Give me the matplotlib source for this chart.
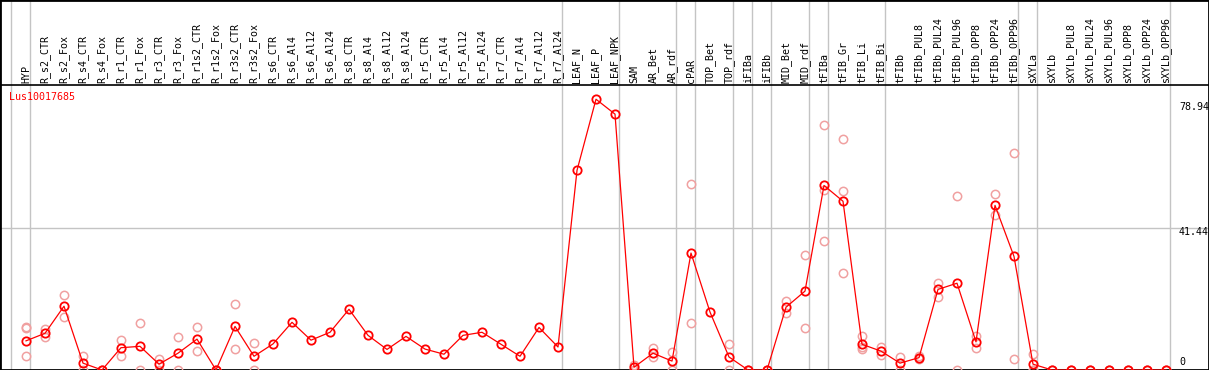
import numpy as np
import matplotlib
matplotlib.use("Agg")
import matplotlib.pyplot as plt

# ─── data ──────────────────────────────────────────────────────
GENE = "Lus10017685"

samples = [
    "HYP", "R_s2_CTR", "R_s2_Fox", "R_s4_CTR", "R_s4_Fox", "R_r1_CTR", "R_r1_Fox",
    "R_r3_CTR", "R_r3_Fox", "R_r1s2_CTR", "R_r1s2_Fox", "R_r3s2_CTR", "R_r3s2_Fox",
    "R_s6_CTR", "R_s6_Al4", "R_s6_Al12", "R_s6_Al24", "R_s8_CTR", "R_s8_Al4",
    "R_s8_Al12", "R_s8_Al24", "R_r5_CTR", "R_r5_Al4", "R_r5_Al12", "R_r5_Al24",
    "R_r7_CTR", "R_r7_Al4", "R_r7_Al12", "R_r7_Al24", "LEAF_N", "LEAF_P", "LEAF_NPK",
    "SAM", "AR_Bet", "AR_rdf", "cPAR", "TOP_Bet", "TOP_rdf", "iFIBa", "iFIBb",
    "MID_Bet", "MID_rdf", "tFIBa", "tFIB_Gr", "tFIB_Li", "tFIB_Bi", "tFIBb",
    "tFIBb_PUL8", "tFIBb_PUL24", "tFIBb_PUL96", "tFIBb_OPP8", "tFIBb_OPP24",
    "tFIBb_OPP96", "sXYLa", "sXYLb", "sXYLb_PUL8", "sXYLb_PUL24", "sXYLb_PUL96",
    "sXYLb_OPP8", "sXYLb_OPP24", "sXYLb_OPP96",
]

mean_expr = [
    8.5, 10.7, 18.6, 2.0, 0.0, 6.5, 6.9, 1.7, 4.9, 9.0, 0.0, 12.7, 4.0,
    7.6, 13.9, 8.7, 11.0, 17.7, 10.1, 6.0, 9.8, 6.1, 4.6, 10.1, 11.0,
    7.5, 4.0, 12.4, 6.7, 58.2, 78.94, 74.6,
    0.8, 4.9, 2.6, 34.1, 16.9, 3.8, 0.0, 0.0,
    18.3, 23.0, 53.8, 49.2, 7.5, 5.5, 2.0,
    3.6, 23.5, 25.3, 8.2, 48.0, 33.1,
    1.7, 0.0, 0.0, 0.0, 0.0, 0.0, 0.0, 0.0,
]

replicates = [
    [12.4, 12.2, 4.2], [12.0, 9.6], [21.9, 15.5], [4.1, 0.0], [0.0, 0.0],
    [8.7, 4.2], [13.6, 0.0], [3.2, 0.0], [9.5, 0.0], [12.4, 5.5], [0.0, 0.0],
    [19.2, 6.0], [7.8, 0.0],
    [], [], [], [], [], [], [], [], [], [], [], [], [], [], [], [],
    [], [], [],
    [1.5, 0.0], [6.3, 3.9], [5.3, 0.0], [54.2, 13.7], [], [7.6, 0.0],
    [0.0, 0.0], [0.0, 0.0],
    [20.1, 16.5], [33.5, 12.2], [71.3, 52.4, 37.5], [67.3, 52.1, 28.3],
    [9.9, 6.7, 6.1], [6.8, 4.3], [3.9, 0.0],
    [4.1, 3.3], [25.4, 21.4], [50.7, 0.0], [9.9, 6.3], [51.3, 45.1], [63.2, 3.1],
    [4.7, 0.0, 0.0], [0.0, 0.0], [0.0, 0.0], [0.0, 0.0], [0.0, 0.0],
    [0.0, 0.0], [0.0, 0.0], [0.0, 0.0],
]

# last column index of each tissue group (vertical separators)
group_ends = [-1, 0, 28, 31, 34, 35, 37, 38, 39, 41, 42, 45, 52, 53, 60]

scale_labels = [0, 41.44, 78.94]

# ─── layout (pixel based) ──────────────────────────────────────
W, H, DPI = 1209, 370, 100
X0, DX = 26, 19          # px of first column, column pitch
PX_PER_UNIT = 3.43       # vertical px per expression unit
HEADER_PX = 85           # header band height from top

def px_x(px):
    return (px - X0) / DX

def px_y(py_from_top):
    return (H - py_from_top) / PX_PER_UNIT

MONO = "DejaVu Sans Mono"
RED = "#ff0000"
PINK = "#f0a0a0"
GRID = "#c4c4c4"

fig = plt.figure(figsize=(W / DPI, H / DPI), dpi=DPI)
ax = fig.add_axes([0, 0, 1, 1])
ax.set_xlim(px_x(0), px_x(W))
ax.set_ylim(0, px_y(0))
ax.set_xticks([])
ax.set_yticks([])
for s in ax.spines.values():
    s.set_linewidth(2)
    s.set_color("black")

x = np.arange(len(samples))

# separators + grid
for g in group_ends:
    ax.axvline(g + 4 / DX, color=GRID, lw=1, zorder=1)
ax.axhline(41.44, color=GRID, lw=1, zorder=1)
ax.axhline(px_y(HEADER_PX), color="black", lw=1.2, zorder=2)

# replicates
rx, ry = [], []
for i, reps in enumerate(replicates):
    rx += [i] * len(reps)
    ry += reps
ax.plot(rx, ry, linestyle="none", marker="o", ms=6, mfc="none",
        mec=PINK, mew=1.1, zorder=3)

# means
ax.plot(x, mean_expr, color=RED, lw=0.9, marker="o", ms=6, mfc="none",
        mec=RED, mew=1.3, zorder=4)

# column labels
for i, name in enumerate(samples):
    ax.text(i, px_y(HEADER_PX - 2), name, rotation=90, ha="center", va="bottom",
            family=MONO, fontsize=7.2, color="black", zorder=5)

# gene id
ax.text(px_x(9), px_y(97), GENE, ha="left", va="center", family=MONO,
        fontsize=7.2, color=RED, zorder=5)

# scale labels
label_py = {0: 362, 41.44: 232, 78.94: 107}
for v in scale_labels:
    txt = "0" if v == 0 else f"{v:.2f}"
    ax.text(px_x(1179), px_y(label_py[v]), txt, ha="left", va="center",
            family=MONO, fontsize=7.2, color="black", zorder=5)

fig.savefig("out.png", dpi=DPI)
